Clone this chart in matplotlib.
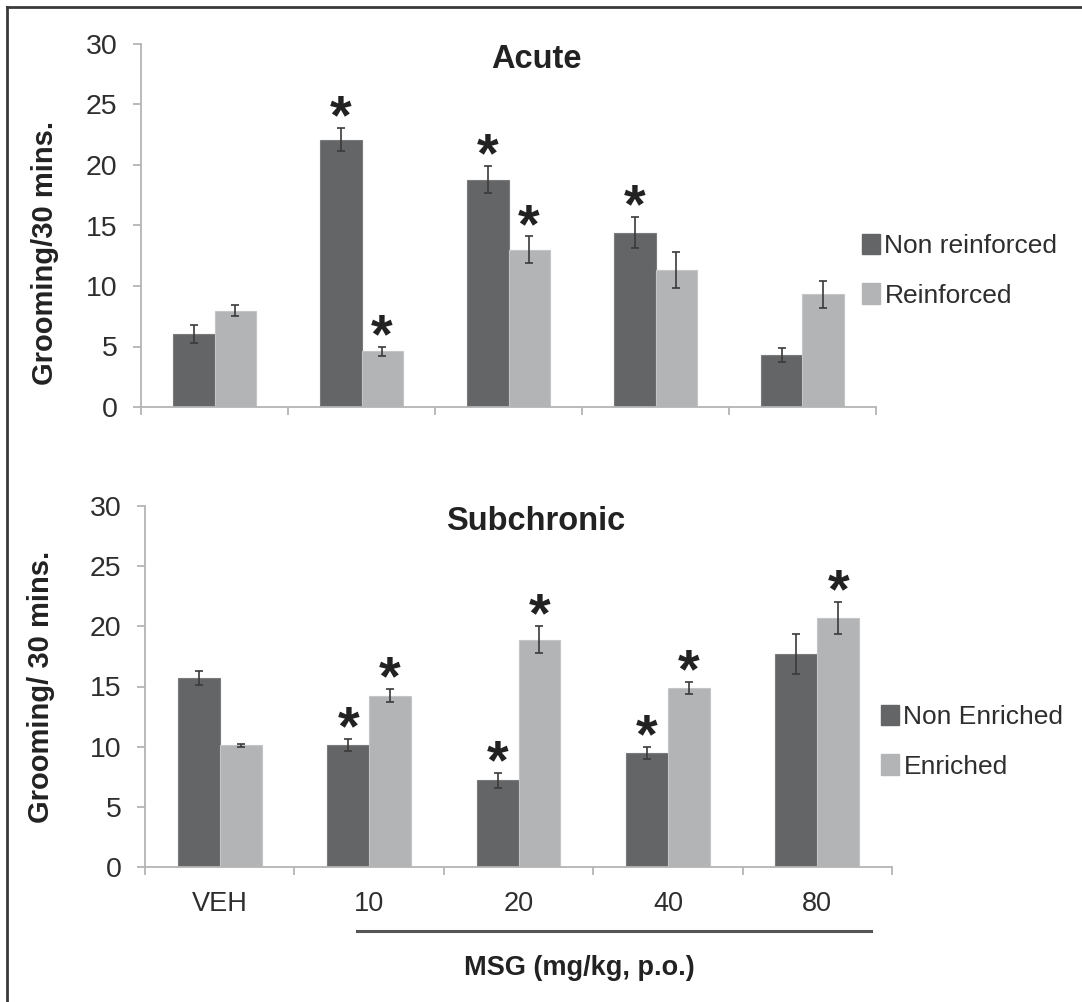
import numpy as np
import matplotlib
matplotlib.use("Agg")
import matplotlib.pyplot as plt
from matplotlib.patches import Patch
from matplotlib.lines import Line2D

plt.rcParams['font.family'] = ['Liberation Sans', 'DejaVu Sans']

# data
groups = ['VEH', '10', '20', '40', '80']

acute_nonreinf = [6.0, 22.1, 18.8, 14.4, 4.3]
acute_nonreinf_err = [0.75, 0.95, 1.1, 1.3, 0.55]
acute_nonreinf_sig = [False, True, True, True, False]
acute_reinf = [7.95, 4.6, 13.0, 11.3, 9.3]
acute_reinf_err = [0.45, 0.35, 1.1, 1.5, 1.1]
acute_reinf_sig = [False, True, True, False, False]

sub_nonenr = [15.7, 10.15, 7.2, 9.5, 17.7]
sub_nonenr_err = [0.55, 0.5, 0.6, 0.5, 1.7]
sub_nonenr_sig = [False, True, True, True, False]
sub_enr = [10.1, 14.25, 18.9, 14.9, 20.7]
sub_enr_err = [0.15, 0.55, 1.1, 0.5, 1.3]
sub_enr_sig = [False, True, True, True, True]

DARK = '#646567'
LIGHT = '#b3b4b6'
AXIS = '#b4b4b4'
TEXT = '#2e2e2e'

W, H = 1082, 1002
fig = plt.figure(figsize=(W / 100, H / 100), dpi=100)


def panel(ax, dark, dark_err, dark_sig, light, light_err, light_sig, labels):
    x = np.arange(len(groups))
    bw = 0.28
    ax.bar(x - bw / 2, dark, bw, color=DARK, edgecolor='#7a7b7d', linewidth=0.8, zorder=2)
    ax.bar(x + bw / 2, light, bw, color=LIGHT, edgecolor='#c4c5c7', linewidth=0.8, zorder=2)
    for xs, v, e, s in ((x - bw / 2, dark, dark_err, dark_sig), (x + bw / 2, light, light_err, light_sig)):
        ax.errorbar(xs, v, yerr=e, fmt='none', ecolor='#3a3a3a', elinewidth=1.2,
                    capsize=3, capthick=1.2, zorder=3)
        for xi, vi, ei, si in zip(xs, v, e, s):
            if si:
                ax.text(xi, vi + ei - 0.45, '*', ha='center', va='baseline',
                        fontsize=40, fontweight='bold', color='#222222')
    ax.set_xlim(-0.5, len(groups) - 0.5)
    ax.set_ylim(0, 30)
    ax.set_yticks(np.arange(0, 31, 5))
    ax.set_xticks(np.arange(-0.5, len(groups), 1))
    ax.set_xticklabels([])
    ax.set_xticks(x, minor=True)
    if labels:
        ax.set_xticklabels(groups, minor=True)
    for s in ('top', 'right'):
        ax.spines[s].set_visible(False)
    for s in ('left', 'bottom'):
        ax.spines[s].set_color(AXIS)
        ax.spines[s].set_linewidth(1.3)
    ax.tick_params(axis='y', direction='out', length=6, width=1.3, color=AXIS,
                   labelsize=20.5, labelcolor=TEXT, pad=11)
    ax.tick_params(axis='x', which='major', direction='out', length=6, width=1.3, color=AXIS)
    ax.tick_params(axis='x', which='minor', length=0, labelsize=19.5, labelcolor=TEXT, pad=17)


ax1 = fig.add_axes([141 / W, 1 - 407 / H, (876 - 141) / W, (407 - 44) / H])
panel(ax1, acute_nonreinf, acute_nonreinf_err, acute_nonreinf_sig,
      acute_reinf, acute_reinf_err, acute_reinf_sig, False)

ax2 = fig.add_axes([145 / W, 1 - 867 / H, (892 - 145) / W, (867 - 506) / H])
panel(ax2, sub_nonenr, sub_nonenr_err, sub_nonenr_sig,
      sub_enr, sub_enr_err, sub_enr_sig, True)

# titles and axis labels
fig.text(536 / W, 1 - 59 / H, 'Acute', ha='center', va='center', fontsize=23.5,
         fontweight='bold', color='#222222')
fig.text(536 / W, 1 - 521 / H, 'Subchronic', ha='center', va='center', fontsize=23.5,
         fontweight='bold', color='#222222')
fig.text(45 / W, 1 - 253 / H, 'Grooming/30 mins.', rotation=90, ha='center', va='center',
         fontsize=21, fontweight='bold', color='#222222')
fig.text(41 / W, 1 - 687 / H, 'Grooming/ 30 mins.', rotation=90, ha='center', va='center',
         fontsize=21, fontweight='bold', color='#222222')
fig.text(579 / W, 1 - 968 / H, 'MSG (mg/kg, p.o.)', ha='center', va='center',
         fontsize=19.5, fontweight='bold', color='#222222')

# bracket line under the MSG doses
ax2.plot([0.92, 4.36], [-0.177, -0.177], transform=ax2.get_xaxis_transform(),
         color='#555555', lw=2.2, clip_on=False)

# legends
leg_kw = dict(loc='upper left', bbox_transform=fig.transFigure, frameon=False,
              borderpad=0, borderaxespad=0, handlelength=0.7, handleheight=0.8,
              handletextpad=0.15, labelspacing=0.95, fontsize=19, labelcolor=TEXT)
ax1.legend(handles=[Patch(color=DARK), Patch(color=LIGHT)],
           labels=['Non reinforced', 'Reinforced'],
           bbox_to_anchor=(862 / W, 1 - 234 / H), **leg_kw)
ax2.legend(handles=[Patch(color=DARK), Patch(color=LIGHT)],
           labels=['Non Enriched', 'Enriched'],
           bbox_to_anchor=(881 / W, 1 - 705 / H), **leg_kw)

# frame lines (top and left only)
fig.add_artist(Line2D([7 / W, 1], [1 - 7 / H, 1 - 7 / H], color='#3a3a3a', lw=2))
fig.add_artist(Line2D([7 / W, 7 / W], [0, 1 - 7 / H], color='#3a3a3a', lw=2))

fig.savefig('out.png', dpi=100)
